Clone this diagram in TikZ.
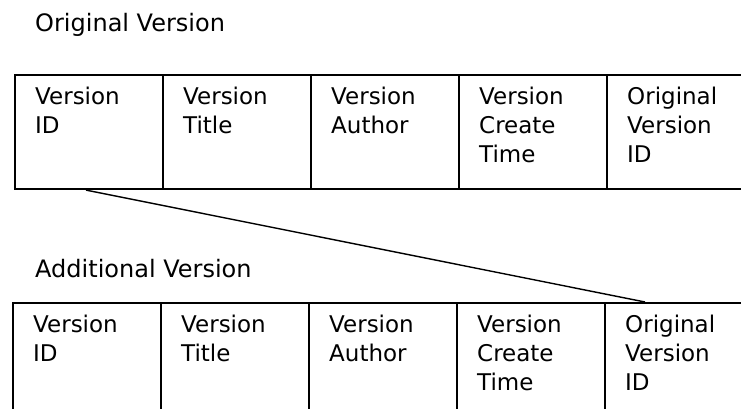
\documentclass[tikz,border=0pt]{standalone}
\usepackage{fontspec}
\setmainfont{DejaVu Sans}
\begin{document}
\begin{tikzpicture}[x=1pt,y=1pt,
    cell/.style={draw, line width=2.1pt, rectangle, anchor=north west, minimum width=148pt, minimum height=114pt, inner sep=0pt},
    tallcell/.style={cell, minimum height=150pt},
    lbl/.style={anchor=north west, align=left, inner sep=0pt, font=\fontsize{23}{29}\selectfont},
    head/.style={anchor=base west, inner sep=0pt, font=\fontsize{24}{29}\selectfont}]
    \useasboundingbox (0,0) rectangle (741,-409);
    \clip (0,0) rectangle (741,-409);

    \node[head] (hOrig) at (35,-32) {Original Version};
    \node[cell] (o1) at (14,-74) {};
    \node[cell] (o2) at (162,-74) {};
    \node[cell] (o3) at (310,-74) {};
    \node[cell] (o4) at (458,-74) {};
    \node[cell] (o5) at (606,-74) {};
    \node[lbl] (t1) at ([shift={(21pt,-13pt)}]o1.north west) {Version\\ID};
    \node[lbl] (t2) at ([shift={(21pt,-13pt)}]o2.north west) {Version\\Title};
    \node[lbl] (t3) at ([shift={(21pt,-13pt)}]o3.north west) {Version\\Author};
    \node[lbl] (t4) at ([shift={(21pt,-13pt)}]o4.north west) {Version\\Create\\Time};
    \node[lbl] (t5) at ([shift={(21pt,-13pt)}]o5.north west) {Original\\Version\\ID};

    \node[head] (hAdd) at (35,-277) {Additional Version};
    \node[tallcell] (a1) at (12,-302) {};
    \node[tallcell] (a2) at (160,-302) {};
    \node[tallcell] (a3) at (308,-302) {};
    \node[tallcell] (a4) at (456,-302) {};
    \node[tallcell] (a5) at (604,-302) {};
    \node[lbl] (s1) at ([shift={(21pt,-13pt)}]a1.north west) {Version\\ID};
    \node[lbl] (s2) at ([shift={(21pt,-13pt)}]a2.north west) {Version\\Title};
    \node[lbl] (s3) at ([shift={(21pt,-13pt)}]a3.north west) {Version\\Author};
    \node[lbl] (s4) at ([shift={(21pt,-13pt)}]a4.north west) {Version\\Create\\Time};
    \node[lbl] (s5) at ([shift={(21pt,-13pt)}]a5.north west) {Original\\Version\\ID};

    \coordinate (ref) at ([xshift=41pt]a5.north west);
    \draw[line width=1.4pt] ([xshift=-3pt]o1.south) -- (ref);
\end{tikzpicture}
\end{document}
